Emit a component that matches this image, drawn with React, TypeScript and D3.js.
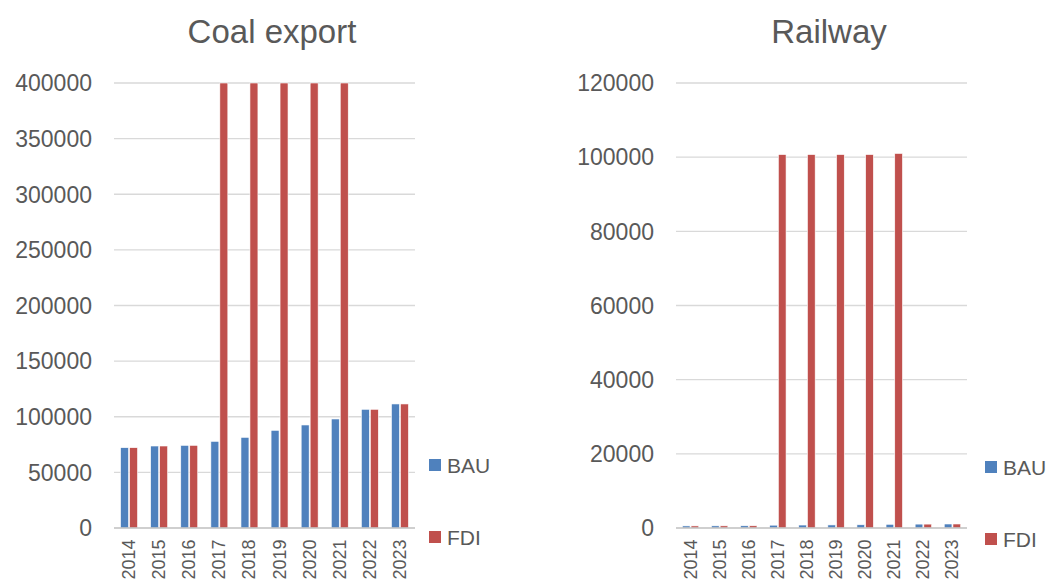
import React from "react";
import * as d3 from "d3";

const years = ["2014", "2015", "2016", "2017", "2018", "2019", "2020", "2021", "2022", "2023"];

// Coal export (axis capped at 400000; FDI bars for 2017-2021 run off the top)
const coalBAU = [72200, 73700, 74300, 77900, 81500, 87800, 92600, 98000, 106700, 111500];
const coalFDI = [72200, 73700, 74300, 400000, 400000, 400000, 400000, 400000, 106700, 111500];
const coalTicks = [0, 50000, 100000, 150000, 200000, 250000, 300000, 350000, 400000];

// Railway
const railBAU = [560, 580, 600, 760, 800, 830, 870, 1000, 1050, 1080];
const railFDI = [560, 580, 600, 100700, 100700, 100700, 100700, 101000, 1050, 1080];
const railTicks = [0, 20000, 40000, 60000, 80000, 100000, 120000];

const seriesNames = ["BAU", "FDI"];
const seriesColors = ["#4F81BD", "#C0504D"];

const FONT = "'Liberation Sans', Arial, sans-serif";
const TEXT = "#595959";

type PanelProps = {
  title: string;
  titleX: number;
  x0: number;
  x1: number;
  yMax: number;
  ticks: number[];
  bau: number[];
  fdi: number[];
  legendX: number;
  legendY: number;
};

function Panel({ title, titleX, x0, x1, yMax, ticks, bau, fdi, legendX, legendY }: PanelProps) {
  const top = 83;
  const bottom = 528;
  const x = d3.scaleBand<string>().domain(years).range([x0, x1]).padding(0);
  const y = d3.scaleLinear().domain([0, yMax]).range([bottom, top]).clamp(true);
  const bw = x.bandwidth() * 0.265;
  const series = [bau, fdi];

  return (
    <g>
      <text x={titleX} y={43} textAnchor="middle" fontFamily={FONT} fontSize={33} fill={TEXT}>
        {title}
      </text>
      {ticks.map((t) => (
        <g key={t}>
          {t > 0 && (
            <line x1={x0} x2={x1} y1={y(t)} y2={y(t)} stroke="#D9D9D9" strokeWidth={1.3} />
          )}
          <text
            x={x0 - 22}
            y={y(t)}
            dy="0.36em"
            textAnchor="end"
            fontFamily={FONT}
            fontSize={23}
            fill={TEXT}
          >
            {t}
          </text>
        </g>
      ))}
      {series.map((vals, si) =>
        vals.map((v, i) => {
          const cx = (x(years[i]) as number) + x.bandwidth() / 2;
          const bx = si === 0 ? cx - bw - 0.5 : cx + 0.5;
          return (
            <rect
              key={`${si}-${i}`}
              x={bx}
              y={y(v)}
              width={bw}
              height={bottom - y(v)}
              fill={seriesColors[si]}
              stroke="#ffffff"
              strokeWidth={0.6}
            />
          );
        })
      )}
      <line x1={x0} x2={x1} y1={bottom} y2={bottom} stroke="#BFBFBF" strokeWidth={1.3} />
      {years.map((yr) => {
        const cx = (x(yr) as number) + x.bandwidth() / 2;
        return (
          <text
            key={yr}
            transform={`translate(${cx},${539.5}) rotate(-90)`}
            textAnchor="end"
            dominantBaseline="central"
            fontFamily={FONT}
            fontSize={18}
            fill={TEXT}
          >
            {yr}
          </text>
        );
      })}
      {seriesNames.map((name, i) => {
        const ly = legendY + i * 72;
        return (
          <g key={name}>
            <rect x={legendX} y={ly - 6} width={12} height={12} fill={seriesColors[i]} />
            <text
              x={legendX + 18}
              y={ly}
              dy="0.36em"
              fontFamily={FONT}
              fontSize={21}
              fill={TEXT}
            >
              {name}
            </text>
          </g>
        );
      })}
    </g>
  );
}

export default function App() {
  return (
    <svg
      width={1051}
      height={581}
      style={{ position: "absolute", left: 0, top: 0, background: "#ffffff" }}
    >
      <Panel
        title="Coal export"
        titleX={272}
        x0={114}
        x1={415}
        yMax={400000}
        ticks={coalTicks}
        bau={coalBAU}
        fdi={coalFDI}
        legendX={429}
        legendY={465}
      />
      <Panel
        title="Railway"
        titleX={829}
        x0={676}
        x1={967}
        yMax={120000}
        ticks={railTicks}
        bau={railBAU}
        fdi={railFDI}
        legendX={985}
        legendY={467}
      />
    </svg>
  );
}
